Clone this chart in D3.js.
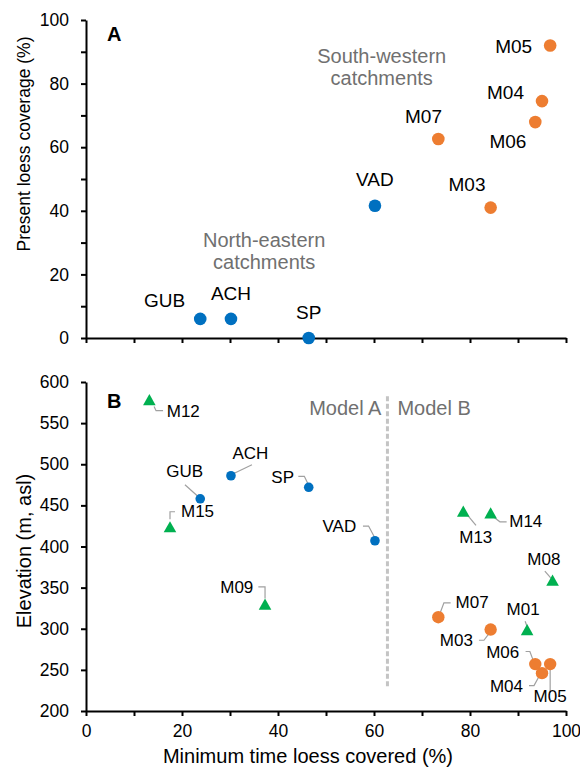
<!DOCTYPE html>
<html>
<head>
<meta charset="utf-8">
<script src="https://cdn.jsdelivr.net/npm/d3@7"></script>
<style>
  html, body { margin: 0; padding: 0; background: #fff; }
  svg { display: block; font-family: "Liberation Sans", Arial, Helvetica, sans-serif; }
</style>
</head>
<body>
<svg id="chart" width="580" height="772"></svg>
<script>
// ---- Data -------------------------------------------------------------
// North-eastern catchments (blue circles)
const northEastIds       = ["GUB", "ACH", "SP", "VAD"];
const northEastMinTime   = [23.8, 30.2, 46.4, 60.2];   // minimum time loess covered (%)
const northEastCoverage  = [6, 6, 0, 41.6];            // present loess coverage (%)
const northEastElevation = [458, 486, 472, 407];       // elevation (m asl)

// South-western catchments (orange circles)
const southWestIds       = ["M03", "M07", "M06", "M04", "M05"];
const southWestMinTime   = [84.3, 73.4, 93.6, 95.0, 96.7];
const southWestCoverage  = [41, 62.6, 67.9, 74.5, 92];
const southWestElevation = [299, 314, 257, 246, 257];

// Further catchments, elevation panel only (green triangles)
const otherIds       = ["M12", "M15", "M09", "M13", "M14", "M08", "M01"];
const otherMinTime   = [13.2, 17.5, 37.3, 78.6, 84.3, 97.2, 91.9];
const otherElevation = [578.5, 424, 330, 443, 441, 359, 299];

// Model split
const modelBoundary = 62.8;
const modelBoundaryElevation = [230, 583];

// Axis ticks
const xTicks = [0, 10, 20, 30, 40, 50, 60, 70, 80, 90, 100];
const xTickLabels = [0, 20, 40, 60, 80, 100];
const yTicksA = [0, 10, 20, 30, 40, 50, 60, 70, 80, 90, 100];
const yTickLabelsA = [0, 20, 40, 60, 80, 100];
const yTicksB = [200, 250, 300, 350, 400, 450, 500, 550, 600];

// ---- Layout -----------------------------------------------------------
const COL_BLUE = "#0070C0", COL_ORANGE = "#ED7D31", COL_GREEN = "#00B050";
const COL_GREYTXT = "#707070", COL_LEADER = "#a0a0a0";

const svg = d3.select("#chart");
const x = d3.scaleLinear().domain([0, 100]).range([86, 566]);
const yA = d3.scaleLinear().domain([0, 100]).range([338, 20]);
const yB = d3.scaleLinear().domain([200, 600]).range([711, 382]);

// label placement for panel A: [dx, dy, anchor]
const labelA = {
  GUB: [-15, -11.7, "end"], ACH: [0, -19.3, "middle"], SP: [0, -18.7, "middle"],
  VAD: [0, -19.7, "middle"], M03: [-23.6, -16.6, "middle"], M07: [-14.8, -15.7, "middle"],
  M06: [-27.4, 26.3, "middle"], M04: [-36.5, -1.7, "middle"], M05: [-36.5, 8, "middle"]
};
// label placement for panel B: [dx, dy, anchor, leader points relative to marker]
const labelB = {
  M12: [17.4, 17, "start", [[4.7, 6.7], [6.7, 11], [13.7, 11]]],
  GUB: [-15.6, -21.3, "middle", [[-15.3, -14], [-3, -3]]],
  ACH: [19.5, -16.7, "middle", [[21, -11], [2.3, -2]]],
  SP:  [-14.7, -4.7, "end", [[-10.4, -11], [-4.4, -11], [-1, -4]]],
  VAD: [-18.7, -9, "end", [[-12, -14.7], [-6.4, -14.7], [-0.7, -4]]],
  M15: [11, -9.4, "start", [[0, -7.4], [0, -15], [5, -15]]],
  M09: [-11.7, -10.7, "end", [[-6.7, -17.3], [0, -17.3], [0, -5.7]]],
  M13: [12.5, 32.3, "middle", [[1.7, 1], [12.7, 14.3]]],
  M14: [18.6, 14.6, "start", [[2.6, 4], [9.3, 9], [16, 9]]],
  M08: [-8.7, -15.7, "middle", [[-7.7, -9], [-1, -1.4]]],
  M07: [17.3, -9.4, "start", [[0.6, -1], [5.6, -14.4], [12.3, -14.4]]],
  M01: [-4, -15, "middle", [[-2, -8.3], [0, -3]]],
  M03: [-17.7, 16.7, "end", [[-11.7, 10.7], [-6.7, 10.7], [-1.7, 4]]],
  M06: [-16, -6, "end", [[-9.7, -12.6], [-5.4, -12.6], [-1.4, -2]]],
  M04: [-19, 18.4, "end", [[-13, 12.4], [-8, 12.4], [-3, 3.4]]],
  M05: [0, 38, "middle", [[0, 3], [0, 29]]]
};

// ---- Axes ---------------------------------------------------------------
function styleAxis(g) {
  g.select(".domain").attr("stroke", "#000").attr("stroke-width", 2);
  g.selectAll(".tick line").attr("stroke", "#000").attr("stroke-width", 2);
  g.selectAll(".tick text").attr("fill", "#000").attr("font-size", 17.5)
    .attr("font-family", "Liberation Sans, Arial, sans-serif");
}

// Panel A axes (no x tick labels)
svg.append("g").attr("transform", `translate(0,${yA(0)})`)
  .call(d3.axisBottom(x).tickValues(xTicks).tickSize(5).tickSizeOuter(0).tickFormat(""))
  .call(styleAxis);
svg.append("g").attr("transform", `translate(${x(0)},0)`)
  .call(d3.axisLeft(yA).tickValues(yTicksA).tickSize(5).tickSizeOuter(0).tickPadding(12)
    .tickFormat(d => yTickLabelsA.includes(d) ? d : ""))
  .call(styleAxis);

// Panel B axes
svg.append("g").attr("transform", `translate(0,${yB(200)})`)
  .call(d3.axisBottom(x).tickValues(xTicks).tickSize(5).tickSizeOuter(0).tickPadding(9)
    .tickFormat(d => xTickLabels.includes(d) ? d : ""))
  .call(styleAxis);
svg.append("g").attr("transform", `translate(${x(0)},0)`)
  .call(d3.axisLeft(yB).tickValues(yTicksB).tickSize(5).tickSizeOuter(0).tickPadding(12))
  .call(styleAxis);

// Axis titles
svg.append("text").attr("transform", "translate(30,144) rotate(-90)")
  .attr("text-anchor", "middle").attr("font-size", 17.5).text("Present loess coverage (%)");
svg.append("text").attr("transform", "translate(31,551) rotate(-90)")
  .attr("text-anchor", "middle").attr("font-size", 20).text("Elevation (m, asl)");
svg.append("text").attr("x", 308).attr("y", 763)
  .attr("text-anchor", "middle").attr("font-size", 20).text("Minimum time loess covered (%)");

// Panel letters
svg.append("text").attr("x", 107).attr("y", 41).attr("font-size", 20).attr("font-weight", "bold").text("A");
svg.append("text").attr("x", 107).attr("y", 408).attr("font-size", 20).attr("font-weight", "bold").text("B");

// ---- Panel A ----------------------------------------------------------
const groupLabels = [
  { lines: ["South-western", "catchments"], cx: 381.7, y: 63.3 },
  { lines: ["North-eastern", "catchments"], cx: 264.2, y: 247.3 }
];
groupLabels.forEach(gl => {
  const t = svg.append("text").attr("text-anchor", "middle").attr("font-size", 20).attr("fill", COL_GREYTXT);
  gl.lines.forEach((ln, i) => t.append("tspan").attr("x", gl.cx).attr("y", gl.y + i * 22).text(ln));
});

const ptsA = northEastIds.map((id, i) => ({ id, xv: northEastMinTime[i], yv: northEastCoverage[i], c: COL_BLUE }))
  .concat(southWestIds.map((id, i) => ({ id, xv: southWestMinTime[i], yv: southWestCoverage[i], c: COL_ORANGE })));

svg.append("g").selectAll("circle").data(ptsA).join("circle")
  .attr("cx", d => x(d.xv)).attr("cy", d => yA(d.yv)).attr("r", 6.3).attr("fill", d => d.c);
svg.append("g").selectAll("text").data(ptsA).join("text")
  .attr("x", d => x(d.xv) + labelA[d.id][0]).attr("y", d => yA(d.yv) + labelA[d.id][1])
  .attr("text-anchor", d => labelA[d.id][2]).attr("font-size", 19).text(d => d.id);

// ---- Panel B ----------------------------------------------------------
// model split line and headings
svg.append("line")
  .attr("x1", x(modelBoundary)).attr("x2", x(modelBoundary))
  .attr("y1", yB(modelBoundaryElevation[0])).attr("y2", yB(modelBoundaryElevation[1]))
  .attr("stroke", "#c4c4c4").attr("stroke-width", 3).attr("stroke-dasharray", "5,2.5");
svg.append("text").attr("x", x(modelBoundary) - 6).attr("y", 415).attr("text-anchor", "end")
  .attr("font-size", 20).attr("fill", COL_GREYTXT).text("Model A");
svg.append("text").attr("x", x(modelBoundary) + 10).attr("y", 415).attr("text-anchor", "start")
  .attr("font-size", 20).attr("fill", COL_GREYTXT).text("Model B");

const ptsB = northEastIds.map((id, i) => ({ id, xv: northEastMinTime[i], yv: northEastElevation[i], c: COL_BLUE, s: "small" }))
  .concat(southWestIds.map((id, i) => ({ id, xv: southWestMinTime[i], yv: southWestElevation[i], c: COL_ORANGE, s: "circle" })))
  .concat(otherIds.map((id, i) => ({ id, xv: otherMinTime[i], yv: otherElevation[i], c: COL_GREEN, s: "tri" })));

// leader lines
svg.append("g").selectAll("path").data(ptsB).join("path")
  .attr("d", d => {
    const px = x(d.xv), py = yB(d.yv);
    return d3.line()(labelB[d.id][3].map(p => [px + p[0], py + p[1]]));
  })
  .attr("fill", "none").attr("stroke", COL_LEADER).attr("stroke-width", 1.2);

// markers
const mk = svg.append("g");
mk.selectAll("circle").data(ptsB.filter(d => d.s !== "tri")).join("circle")
  .attr("cx", d => x(d.xv)).attr("cy", d => yB(d.yv))
  .attr("r", d => d.s === "small" ? 4.8 : 6.2).attr("fill", d => d.c);
mk.selectAll("path").data(ptsB.filter(d => d.s === "tri")).join("path")
  .attr("d", d => {
    const px = x(d.xv), py = yB(d.yv), w = 6.3, h = 5.6;
    return `M${px},${py - h}L${px + w},${py + h}L${px - w},${py + h}Z`;
  })
  .attr("fill", d => d.c);

// labels
svg.append("g").selectAll("text").data(ptsB).join("text")
  .attr("x", d => x(d.xv) + labelB[d.id][0]).attr("y", d => yB(d.yv) + labelB[d.id][1])
  .attr("text-anchor", d => labelB[d.id][2]).attr("font-size", 17).text(d => d.id);
</script>
</body>
</html>
